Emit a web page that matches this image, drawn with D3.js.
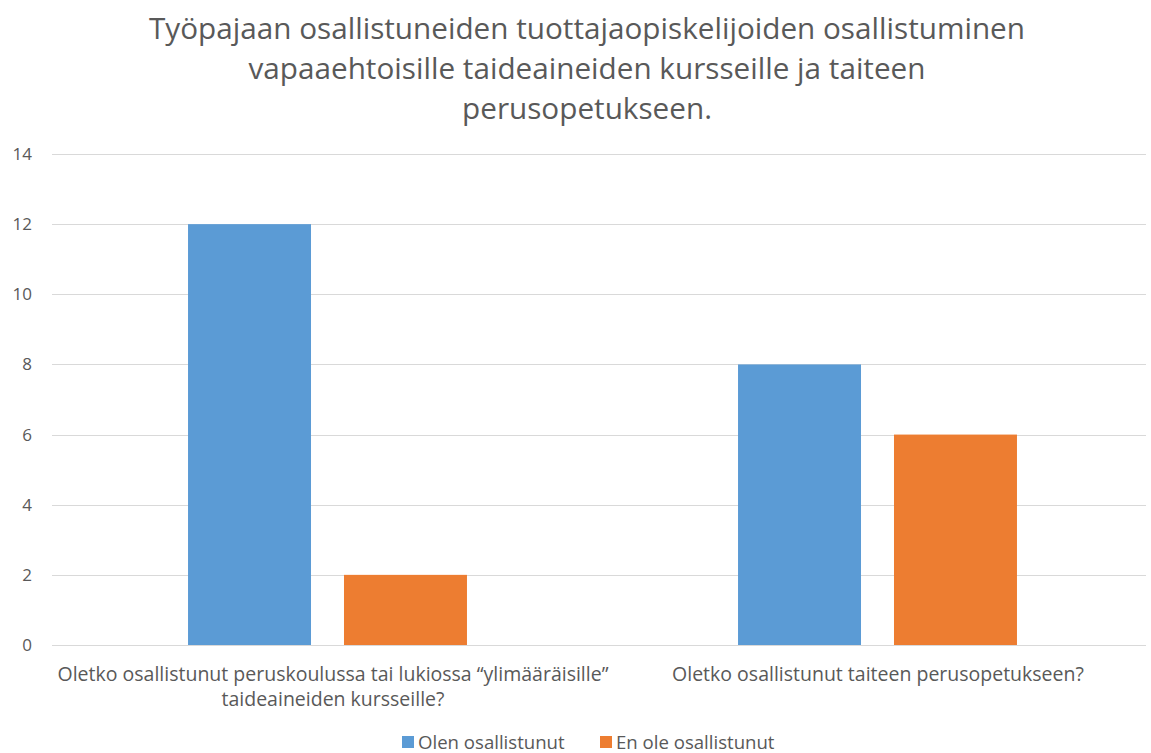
<!DOCTYPE html>
<meta charset="utf-8">
<style>
body { margin: 0; background: #fff; }
text { font-family: "Open Sans", sans-serif; fill: #595959; }
.grid line { stroke: #d9d9d9; stroke-width: 1; }
</style>
<body>
<script src="https://d3js.org/d3.v7.min.js"></script>
<script>

let width = 1151;
let height = 753;

let titleLines = [
  "Työpajaan osallistuneiden tuottajaopiskelijoiden osallistuminen",
  "vapaaehtoisille taideaineiden kursseille ja taiteen",
  "perusopetukseen."
];
let categories = [
  ["Oletko osallistunut peruskoulussa tai lukiossa “ylimääräisille”", "taideaineiden kursseille?"],
  ["Oletko osallistunut taiteen perusopetukseen?"]
];
let seriesNames = ["Olen osallistunut", "En ole osallistunut"];
let seriesColors = ["#5b9bd5", "#ed7d31"];
let olen = [12, 8];
let enOle = [2, 6];
let yTicks = [0, 2, 4, 6, 8, 10, 12, 14];

let svg = d3.select("body").append("svg")
    .attr("width", width)
    .attr("height", height);

// title
svg.append("g").selectAll("text")
  .data(titleLines)
  .enter().append("text")
    .attr("x", 587)
    .attr("y", (d, i) => 39 + i * 40)
    .attr("text-anchor", "middle")
    .style("font-size", "29.7px")
    .text(d => d);

let x0 = d3.scaleBand().domain([0, 1]).range([52.5, 1152.5]);
let x1 = d3.scaleBand().domain([0, 1]).range([0, x0.bandwidth()])
    .paddingInner(0.2115).paddingOuter(0.869);
let y = d3.scaleLinear().domain([0, 14]).range([645, 154]);

// gridlines
svg.append("g").attr("class", "grid")
  .selectAll("line")
  .data(yTicks)
  .enter().append("line")
    .attr("x1", 52).attr("x2", 1146)
    .attr("y1", d => Math.round(y(d)) + 0.5)
    .attr("y2", d => Math.round(y(d)) + 0.5);

// y labels
svg.append("g").selectAll("text")
  .data(yTicks)
  .enter().append("text")
    .attr("x", 32)
    .attr("y", d => y(d) + 6)
    .attr("text-anchor", "end")
    .style("font-size", "17px")
    .text(d => d);

// bars
let rows = [0, 1].map(i => [olen[i], enOle[i]]);
let groups = svg.append("g").selectAll("g")
  .data(rows)
  .enter().append("g")
    .attr("transform", (d, i) => "translate(" + x0(i) + ",0)");

groups.selectAll("rect")
  .data(d => d)
  .enter().append("rect")
    .attr("x", (d, j) => x1(j))
    .attr("y", d => y(d))
    .attr("width", x1.bandwidth())
    .attr("height", d => y(0) - y(d))
    .style("fill", (d, j) => seriesColors[j]);

// category labels
let catX = [333, 878];
categories.forEach(function(lines, i) {
  svg.append("g").selectAll("text")
    .data(lines)
    .enter().append("text")
      .attr("x", catX[i])
      .attr("y", (d, k) => 681 + k * 25)
      .attr("text-anchor", "middle")
      .style("font-size", "19.5px")
      .text(d => d);
});

// legend
let legend = svg.append("g");
let lx = [402, 600];
seriesNames.forEach(function(name, i) {
  legend.append("rect")
    .attr("x", lx[i]).attr("y", 736)
    .attr("width", 12).attr("height", 12)
    .style("fill", seriesColors[i]);
  legend.append("text")
    .attr("x", lx[i] + 16).attr("y", 749)
    .style("font-size", "18.6px")
    .text(name);
});

</script>
